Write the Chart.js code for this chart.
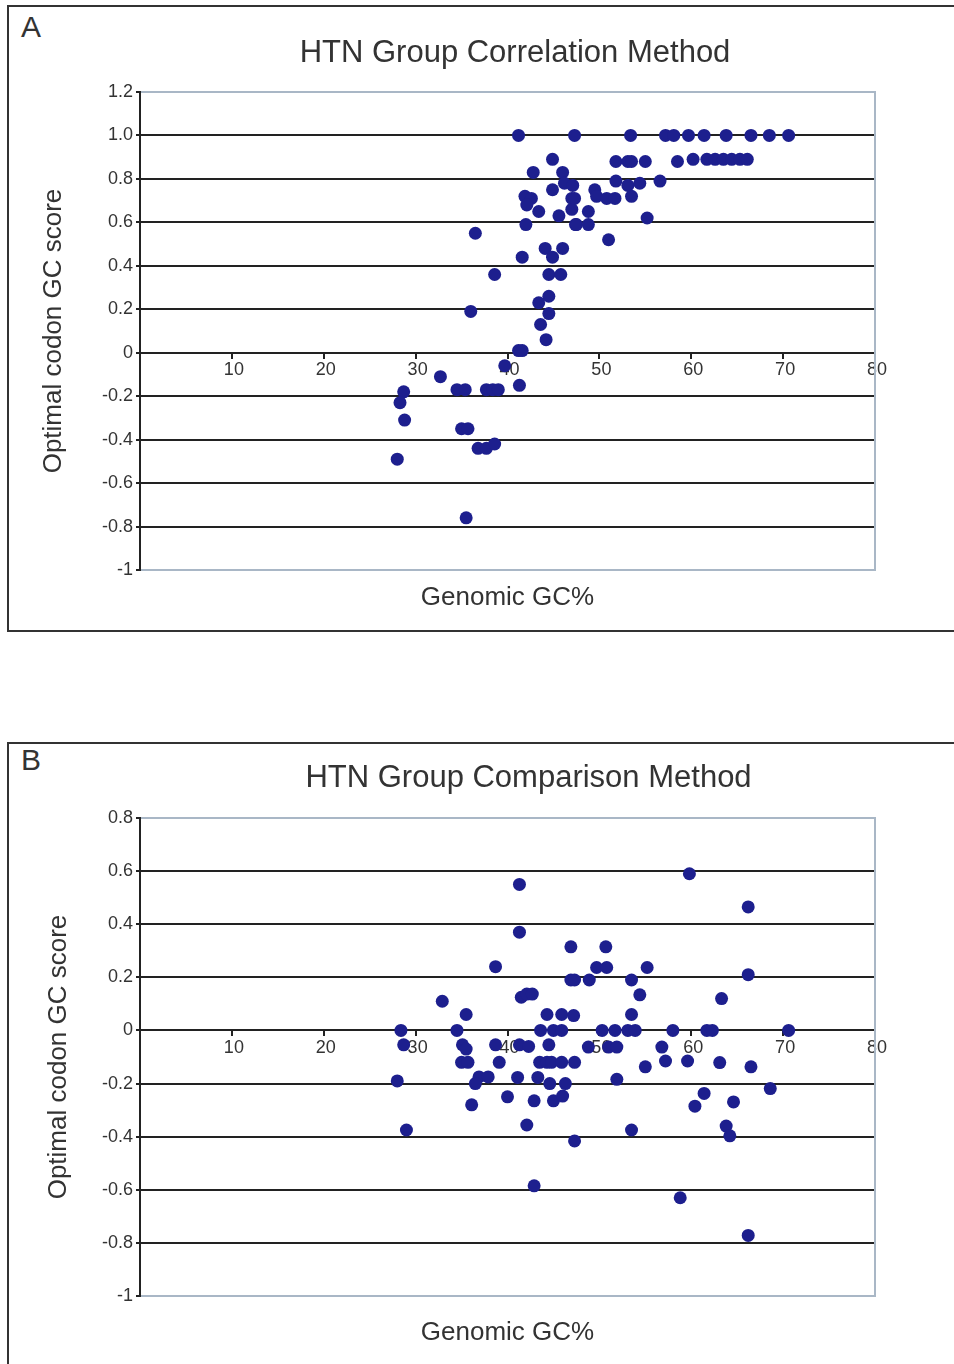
<!DOCTYPE html>
<html><head><meta charset="utf-8">
<script src="https://cdn.jsdelivr.net/npm/chart.js@4.4.1/dist/chart.umd.min.js"></script>
<style>
html,body{margin:0;padding:0;background:#fff;width:954px;height:1364px;overflow:hidden;position:relative;font-family:"Liberation Sans",Arial,sans-serif;}
.panel{position:absolute;left:7px;border:2px solid #333;background:#fff;box-sizing:border-box;}
.letter{position:absolute;left:21px;font-size:30px;line-height:30px;color:#333;}
canvas{position:absolute;left:0;}
</style></head><body>
<div class="panel" style="top:5px;width:1000px;height:627px"></div>
<div class="panel" style="top:742px;width:1000px;height:700px"></div>
<div class="letter" style="top:12px">A</div>
<div class="letter" style="top:745px">B</div>
<canvas id="cA" width="1030" height="620" style="top:0"></canvas>
<canvas id="cB" width="1057" height="631" style="top:725px"></canvas>
<script>
// Panel A: HTN Group Correlation Method
const titleA = 'HTN Group Correlation Method';
const aGC = [41.2,47.3,53.4,57.2,58.1,59.7,61.4,63.8,66.5,68.5,70.6,
  44.9,51.8,53.1,53.5,55.0,58.5,60.2,61.7,62.6,63.5,64.4,65.3,66.1,
  42.8,46.0,46.2,47.1,44.9,41.9,42.6,42.1,43.4,45.6,47.0,47.0,47.4,42.0,36.5,
  44.1,46.0,44.9,41.6,38.6,44.5,45.8,44.5,43.4,36.0,44.5,43.6,44.2,41.2,41.6,
  51.8,53.1,54.4,56.6,49.5,49.7,50.8,51.7,53.5,47.3,48.8,47.5,48.8,55.2,51.0,
  39.7,41.3,32.7,34.5,35.4,37.7,38.4,39.0,28.7,28.3,28.8,35.0,35.7,36.8,37.7,38.6,28.0,35.5];
const aScore = [1.0,1.0,1.0,1.0,1.0,1.0,1.0,1.0,1.0,1.0,1.0,
  0.89,0.88,0.88,0.88,0.88,0.88,0.89,0.89,0.89,0.89,0.89,0.89,0.89,
  0.83,0.83,0.78,0.77,0.75,0.72,0.71,0.68,0.65,0.63,0.71,0.66,0.59,0.59,0.55,
  0.48,0.48,0.44,0.44,0.36,0.36,0.36,0.26,0.23,0.19,0.18,0.13,0.06,0.01,0.01,
  0.79,0.77,0.78,0.79,0.75,0.72,0.71,0.71,0.72,0.71,0.65,0.59,0.59,0.62,0.52,
  -0.06,-0.15,-0.11,-0.17,-0.17,-0.17,-0.17,-0.17,-0.18,-0.23,-0.31,-0.35,-0.35,-0.44,-0.44,-0.42,-0.49,-0.76];

// Panel B: HTN Group Comparison Method
const titleB = 'HTN Group Comparison Method';
const bGC = [41.3,41.3,46.9,38.7,46.9,47.3,41.5,42.1,42.7,32.9,35.5,44.3,45.9,47.2,
  28.4,34.5,43.6,45.0,45.9,28.7,35.1,35.5,38.7,41.3,42.3,44.5,
  35.0,35.7,39.1,43.5,44.3,44.8,45.9,47.3,36.9,37.9,36.5,28.0,41.1,43.3,44.6,46.3,
  40.0,42.9,45.0,46.0,36.1,42.1,29.0,47.3,
  59.8,66.2,50.7,49.7,50.8,55.2,48.9,53.5,66.2,54.4,63.3,53.5,
  50.3,51.7,53.1,53.9,58.0,61.7,62.3,70.6,48.8,51.0,51.9,56.8,
  55.0,57.2,59.6,63.1,66.5,51.9,68.6,61.4,60.4,64.6,53.5,63.8,64.2,42.9,58.8,66.2];
const bScore = [0.55,0.37,0.315,0.24,0.19,0.19,0.125,0.137,0.137,0.11,0.06,0.06,0.06,0.056,
  0,0,0,0,0,-0.054,-0.054,-0.07,-0.054,-0.054,-0.06,-0.054,
  -0.12,-0.12,-0.12,-0.12,-0.12,-0.12,-0.12,-0.12,-0.175,-0.175,-0.2,-0.19,-0.177,-0.177,-0.2,-0.2,
  -0.25,-0.265,-0.265,-0.247,-0.28,-0.356,-0.375,-0.416,
  0.59,0.465,0.315,0.237,0.237,0.237,0.19,0.19,0.21,0.134,0.12,0.06,
  0,0,0,0,0,0,0,0,-0.0625,-0.0625,-0.0625,-0.0625,
  -0.137,-0.115,-0.115,-0.121,-0.137,-0.184,-0.219,-0.237,-0.285,-0.269,-0.375,-0.36,-0.397,-0.585,-0.63,-0.772];

const xTitle = 'Genomic GC%';
const yTitle = 'Optimal codon GC score';

Chart.defaults.font.family = '"Liberation Sans", Arial, sans-serif';
const DARK = '#222';
const LIGHT = '#a9b7c6';
const TEXT = '#333';
const DOT = '#1d1f8e';

function fmtY(v){
  if (Math.abs(v) < 1e-9) return '0';
  if (Math.abs(v + 1) < 1e-9) return '-1';
  return v.toFixed(1);
}

function build(id, title, xs, ys, o){
  new Chart(document.getElementById(id), {
    type: 'scatter',
    data: { datasets: [{
      data: xs.map((x, i) => ({x: x, y: ys[i]})),
      backgroundColor: DOT, borderWidth: 0,
      pointRadius: 6.5, pointHoverRadius: 6.5
    }]},
    options: {
      responsive: false, animation: false,
      layout: { padding: 0 },
      plugins: {
        legend: { display: false }, tooltip: { enabled: false },
        title: { display: true, text: title, color: TEXT,
          font: { size: 31, weight: 'normal' },
          padding: { top: o.tPadTop, bottom: o.tPadBottom } }
      },
      scales: {
        x: { type: 'linear', position: { y: 0 }, min: 0, max: 80,
          ticks: { stepSize: 10, color: TEXT, font: { size: 18 }, padding: 2, maxRotation: 0,
            labelOffset: 2, callback: v => v === 0 ? '' : String(v) },
          grid: { drawOnChartArea: false, drawTicks: true, tickLength: 5, color: DARK, lineWidth: 2 },
          border: { display: true, color: DARK, width: 2 } },
        x2: { type: 'linear', position: 'bottom', min: 0, max: 80,
          ticks: { display: false }, grid: { display: false }, border: { display: false },
          title: { display: true, text: xTitle, color: TEXT, font: { size: 26 },
            padding: { top: 0, bottom: o.xtPad } },
          afterFit: s => { s.height = o.x2H; } },
        y: { type: 'linear', position: 'left', min: o.yMin, max: o.yMax,
          ticks: { stepSize: 0.2, color: TEXT, font: { size: 18 }, padding: 3, callback: fmtY },
          grid: { lineWidth: 2, tickLength: 4, tickColor: DARK,
            color: ctx => (ctx.tick && (Math.abs(ctx.tick.value - o.yMax) < 1e-6 || Math.abs(ctx.tick.value - o.yMin) < 1e-6)) ? LIGHT : DARK },
          border: { color: DARK, width: 2 },
          title: { display: true, text: yTitle, color: TEXT, font: { size: 26 },
            padding: { top: o.ytPad, bottom: 0 } },
          afterFit: s => { s.width = 140; } },
        y2: { type: 'linear', position: 'right', min: o.yMin, max: o.yMax,
          ticks: { display: false }, grid: { drawOnChartArea: false, drawTicks: false },
          border: { color: LIGHT, width: 2 },
          afterFit: s => { s.width = o.y2W; } }
      }
    }
  });
}

build('cA', titleA, aGC, aScore, { yMin: -1, yMax: 1.2, tPadTop: 34.4, tPadBottom: 20.4, x2H: 50, xtPad: 6.4, ytPad: 38.4, y2W: 155 });
build('cB', titleB, bGC, bScore, { yMin: -1, yMax: 0.8, tPadTop: 34.4, tPadBottom: 21.4, x2H: 60, xtPad: 7.4, ytPad: 43.4, y2W: 182 });
</script>
</body></html>
